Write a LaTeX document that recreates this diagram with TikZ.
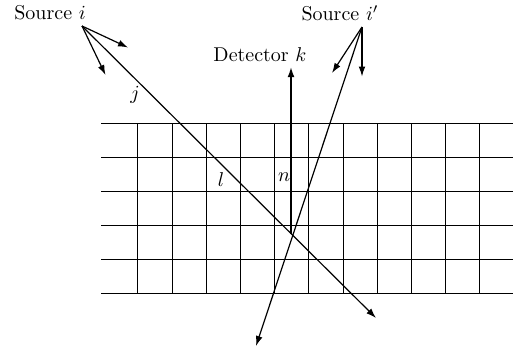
\documentclass[tikz,border=0pt]{standalone}
\usetikzlibrary{arrows.meta}
\begin{document}
\begin{tikzpicture}[x=0.5pt,y=-0.5pt,
  ray/.style={semithick,-{Latex[length=5pt,width=3.4pt]}},
  det/.style={thick,-{Latex[length=5pt,width=3.4pt]}},
  gridline/.style={thin,black},
  lbl/.style={inner sep=1pt}]
\useasboundingbox (0,0) rectangle (513,354);
% grid
\foreach \y in {123.3,157.3,191.3,225.3,259.3,293.3}
  \draw[gridline] (101,\y) -- (513,\y);
\foreach \i in {0,...,10}
  \draw[gridline] ({137.7+34.2*\i},123.3) -- ({137.7+34.2*\i},293.3);
% points
\coordinate (si) at (82,26);
\coordinate (sj) at (362,27);
\coordinate (x) at (291,234);
\coordinate (a1) at (128,47.5);
\coordinate (a2) at (105.5,75);
\coordinate (b1) at (332,73);
\coordinate (b2) at (362,76.5);
\coordinate (e1) at (376,318);
\coordinate (e2) at (256,346);
\coordinate (dk) at (291,67);
% labels
\node[lbl] (lsi) at (50,13) {Source $i$};
\node[lbl] (lsj) at (340,13) {Source $i'$};
\node[lbl] (ldk) at (260,55) {Detector $k$};
\node[lbl] (lj) at (135,95) {$j$};
\node[lbl] (ll) at (221,180) {$l$};
\node[lbl] (ln) at (284,177) {$n$};
% rays
\draw[ray] (si) -- (a1);
\draw[ray] (si) -- (a2);
\draw[ray] (si) -- (e1);
\draw[ray] (sj) -- (b1);
\draw[ray] (sj) -- (b2);
\draw[ray] (sj) -- (e2);
\draw[det] (x) -- (dk);
\end{tikzpicture}
\end{document}
